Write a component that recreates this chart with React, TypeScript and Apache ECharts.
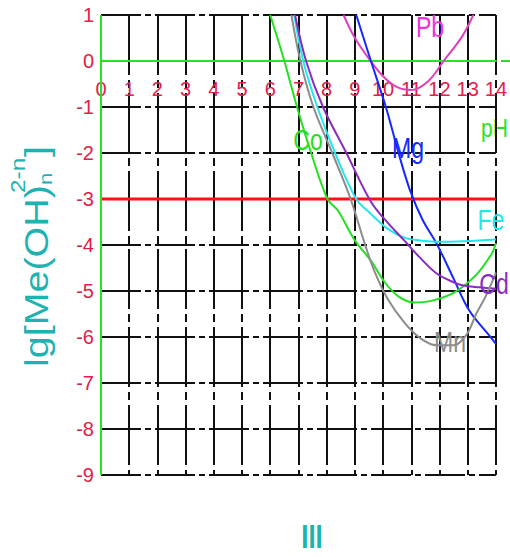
import React, { useEffect, useRef } from "react";
import * as echarts from "echarts";

// pH axis and lg axis limits
const PH_MIN = 0;
const PH_MAX = 14;
const LG_MIN = -9;
const LG_MAX = 1;

// Curves: [pH, lg value]
const pbData: [number, number][] = [
  [8.6, 1], [9.0, 0.5], [9.5, 0.05], [10.0, -0.33], [10.5, -0.57], [11.0, -0.63],
  [11.6, -0.44], [12.15, 0], [12.8, 0.53], [13.2, 1],
];
const mgData: [number, number][] = [
  [9.05, 1], [9.57, 0], [10.1, -1], [10.55, -2], [10.95, -2.8], [11.4, -3.45],
  [11.9, -3.97], [12.5, -4.73], [13.05, -5.42], [13.85, -6.03], [14, -6.15],
];
const coData: [number, number][] = [
  [6.0, 1], [6.5, 0], [6.95, -1], [7.45, -2], [8.03, -3], [8.4, -3.25], [9.0, -3.9],
  [9.58, -4.35], [10.06, -4.81], [10.53, -5.11], [11.1, -5.25], [11.67, -5.22],
  [12.5, -5.04], [13.3, -4.65], [13.85, -4.19], [14, -3.96],
];
const feData: [number, number][] = [
  [6.85, 1], [7.17, 0], [7.67, -1], [8.3, -2], [9.05, -3], [9.58, -3.33],
  [10.17, -3.65], [10.75, -3.84], [11.3, -3.9], [12.0, -3.93], [14, -3.88],
];
const cdData: [number, number][] = [
  [6.88, 1], [7.27, 0], [7.87, -1], [8.7, -2], [9.57, -3.06], [10.17, -3.52],
  [10.75, -3.9], [11.3, -4.27], [11.9, -4.62], [12.5, -4.81], [12.85, -4.88],
  [13.4, -4.92], [14, -4.95],
];
const mnData: [number, number][] = [
  [6.75, 1], [7.07, 0], [7.53, -1], [8.2, -2], [8.85, -3], [9.35, -3.97],
  [9.7, -4.58], [10.17, -5.18], [10.75, -5.68], [11.33, -6.03], [11.9, -6.18],
  [12.5, -6.18], [12.95, -5.96], [13.3, -5.5], [13.65, -5.1], [14, -4.6],
];
const limitData: [number, number][] = [[0, -3], [14, -3]];
const yAxisLineData: [number, number][] = [[0, LG_MIN], [0, LG_MAX]];

const seriesNames = ["Pb", "Mg", "Co", "Fe", "Cd", "Mn"];
const seriesColors = ["#e040c0", "#1428ff", "#22e022", "#22e8ee", "#8a2cc0", "#8c8c8c"];
const labelColors = ["#f030e0", "#1428ff", "#22e022", "#22e8ee", "#8a2cc0", "#8c8c8c"];
const seriesData = [pbData, mgData, coData, feData, cdData, mnData];

const TEAL = "#20b2b0";
const RED_TXT = "#e0204a";
const GREEN = "#22e622";
const NARROW = "'Liberation Sans Narrow', 'Arial Narrow', 'Liberation Sans', sans-serif";

export default function App() {
  const ref = useRef<HTMLDivElement>(null);
  useEffect(() => {
    const chart = echarts.init(ref.current!, null, { renderer: "svg" });
    const labelPos: Record<string, [number, number]> = {
      Pb: [430, 27], Mg: [408, 148], Co: [308, 140], Fe: [491, 220], Cd: [494, 284], Mn: [450, 342],
    };
    const curveLabels = seriesNames.map((n, i) => ({
      type: "text",
      x: labelPos[n][0],
      y: labelPos[n][1],
      scaleY: 1.25,
      z: 10,
      style: {
        text: n,
        fill: labelColors[i],
        font: `23px ${NARROW}`,
        align: "center",
        verticalAlign: "middle",
      },
    }));
    const gridTop = 15;
    const gridHeight = 460;
    const zeroOffset = -gridHeight * (0 - LG_MIN) / (LG_MAX - LG_MIN);
    chart.setOption({
      animation: false,
      backgroundColor: "#ffffff",
      grid: { left: 101, right: 9, top: gridTop, height: gridHeight, containLabel: false },
      xAxis: [
        {
          type: "value",
          min: PH_MIN,
          max: PH_MAX,
          interval: 1,
          position: "bottom",
          offset: zeroOffset,
          axisLine: { onZero: false, lineStyle: { color: GREEN, width: 2 } },
          axisTick: { show: false },
          axisLabel: {
            color: RED_TXT,
            fontSize: 20,
            fontFamily: NARROW,
            margin: 18,
            showMinLabel: true,
            showMaxLabel: true,
          },
          splitLine: {
            show: true,
            lineStyle: { color: "#111", width: 2, type: [60, 5, 8, 5] },
          },
          z: 1,
        },
      ],
      yAxis: {
        type: "value",
        min: LG_MIN,
        max: LG_MAX,
        interval: 1,
        axisLine: { show: false, onZero: false },
        axisTick: { show: false },
        axisLabel: {
          color: RED_TXT,
          fontSize: 20,
          fontFamily: NARROW,
          margin: 7,
        },
        splitLine: {
          show: true,
          lineStyle: { color: "#111", width: 2, type: [40, 4, 6, 4] },
        },
      },
      series: [
        {
          type: "line",
          name: "yAxisLine",
          data: yAxisLineData,
          symbol: "none",
          clip: false,
          lineStyle: { color: GREEN, width: 2 },
          z: 4,
        },
        {
          type: "line",
          name: "limit",
          data: limitData,
          symbol: "none",
          lineStyle: { color: "#ff1010", width: 3 },
          z: 2,
        },
        ...seriesNames.map((n, i) => ({
          type: "line",
          name: n,
          data: seriesData[i],
          smooth: 0.35,
          symbol: "none",
          clip: true,
          lineStyle: { color: seriesColors[i], width: 2 },
          z: 3,
        })),
      ],
      graphic: [
        {
          type: "line",
          shape: { x1: 501, y1: 61, x2: 510, y2: 61 },
          style: { stroke: GREEN, lineWidth: 2 },
        },
        ...curveLabels,
        {
          type: "text",
          x: 481,
          y: 128,
          scaleY: 1.25,
          style: {
            text: "pH",
            fill: GREEN,
            font: `21px ${NARROW}`,
            align: "left",
            verticalAlign: "middle",
          },
        },
        {
          type: "group",
          x: 36,
          y: 367,
          rotation: Math.PI / 2,
          scaleX: 1.16,
          children: [
            {
              type: "text",
              x: 0,
              y: 0,
              style: {
                text: "lg[Me(OH)",
                fill: TEAL,
                font: "34px 'Liberation Sans', Arial, sans-serif",
                align: "left",
                verticalAlign: "middle",
              },
            },
            {
              type: "text",
              x: 150,
              y: -18,
              style: {
                text: "2-n",
                fill: TEAL,
                font: "21px 'Liberation Sans', Arial, sans-serif",
                align: "left",
                verticalAlign: "middle",
              },
            },
            {
              type: "text",
              x: 157,
              y: 9,
              style: {
                text: "n",
                fill: TEAL,
                font: "19px 'Liberation Sans', Arial, sans-serif",
                align: "left",
                verticalAlign: "middle",
              },
            },
            {
              type: "text",
              x: 181,
              y: 0,
              style: {
                text: "]",
                fill: TEAL,
                font: "34px 'Liberation Sans', Arial, sans-serif",
                align: "left",
                verticalAlign: "middle",
              },
            },
          ],
        },
        {
          type: "text",
          x: 312,
          y: 536,
          scaleY: 1.3,
          style: {
            text: "III",
            fill: TEAL,
            font: "bold 26px 'Liberation Sans', Arial, sans-serif",
            align: "center",
            verticalAlign: "middle",
          },
        },
      ],
    });
    return () => chart.dispose();
  }, []);
  return (
    <div
      ref={ref}
      style={{ position: "absolute", left: 0, top: 0, width: 510, height: 557, background: "#fff" }}
    />
  );
}
